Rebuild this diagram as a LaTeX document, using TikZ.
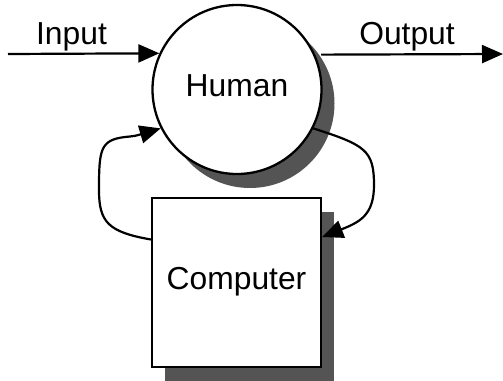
\documentclass[tikz,border=0pt]{standalone}
\usepackage{fontspec}
\setmainfont{Liberation Sans}
\usetikzlibrary{arrows.meta,shadows}
\begin{document}
\begin{tikzpicture}[x=1pt,y=-1pt,
  every node/.style={font=\fontsize{31.8}{36}\selectfont},
  shad/.style={drop shadow={shadow xshift=13pt,shadow yshift=-14pt,fill=black!67,opacity=1}},
  blk/.style={draw=black,line width=2.3pt,fill=white,shad,inner sep=0pt},
  conn/.style={line width=2.2pt,-{Triangle[length=21pt,width=18pt]}},
  lbl/.style={inner sep=0pt}]
\path[use as bounding box] (0,0) rectangle (503,380);
\coordinate (inp) at (8,54);
\coordinate (outp) at (503,54);
\node[blk,circle,minimum size=169pt] (human) at (237,89.5) {\raisebox{8pt}{Human}};
\draw[conn,shorten <=6pt] (human.24.8) -- (outp);
\node[blk,rectangle,minimum width=169pt,minimum height=169pt] (comp) at (236.5,282.5) {\raisebox{9pt}{Computer}};
\draw[conn] (inp) -- (human.155.2);
\node[lbl] (inlbl) at (71.5,37) {Input};
\node[lbl] (outlbl) at (407,37) {Output};
% feedback loops
\draw[conn] ([yshift=43pt]comp.west) .. controls (108,232) and (99,222) .. (99,190)
  .. controls (99,150) and (100,140) .. (125,137) .. controls (135,136) .. (human.207);
\draw[conn] (human.333.2) .. controls (365,145) and (374,150) .. (374,185)
  .. controls (374,215) and (360,222) .. ([yshift=45.5pt]comp.east);
\end{tikzpicture}
\end{document}
